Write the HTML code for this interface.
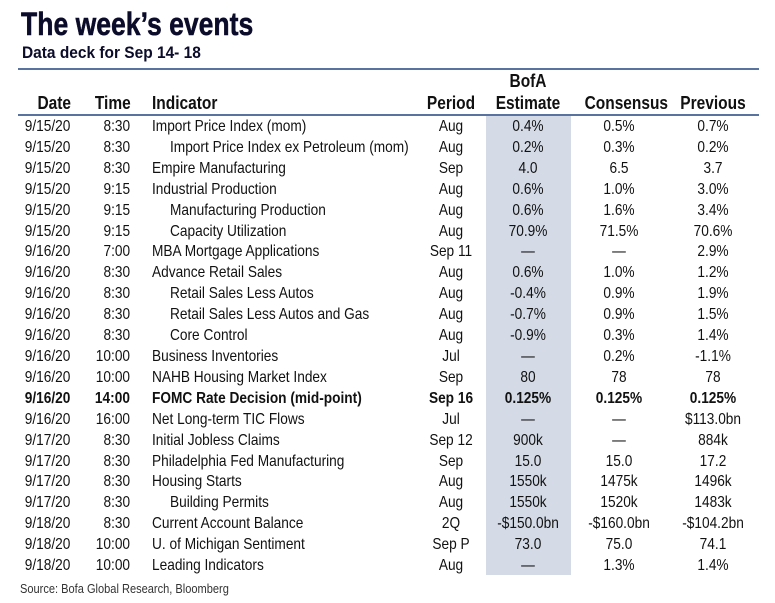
<!DOCTYPE html>
<html><head><meta charset="utf-8"><style>
body{margin:0;width:775px;height:603px;background:#fff;position:relative;overflow:hidden;font-family:"Liberation Sans",sans-serif;color:#111}
.t{position:absolute;left:21px;top:6px;font:bold 32px "Liberation Sans",sans-serif;color:#0b0b2a;transform:scaleX(0.83);transform-origin:left;-webkit-text-stroke:0.5px #0b0b2a}
.s{position:absolute;left:22px;top:43px;font:bold 17px "Liberation Sans",sans-serif;color:#0b0b2a;transform:scaleX(0.91);transform-origin:left}
.ln{position:absolute;left:18px;width:741px;height:2px;background:#5a72a0}
.sh{position:absolute;left:486px;width:85px;top:116px;height:459px;background:#d4dbe6}
.r{position:absolute;left:0;width:775px;height:21px;font-size:16px;line-height:21px}
.r span{position:absolute;white-space:nowrap;transform:scaleX(0.855)}
.d{right:705px;text-align:right;transform-origin:right}
.tm{right:645px;text-align:right;transform-origin:right}
.r span.i,.r span.i2{transform-origin:left}
.i{left:152px}.i2{left:170px}
.p{left:411px;width:80px;text-align:center}
.b{left:488px;width:80px;text-align:center}
.c{left:579px;width:80px;text-align:center}
.v{left:673px;width:80px;text-align:center}
.h{font-weight:bold;font-size:18px}
.h span{transform:scaleX(0.86)}
.bd{font-weight:bold}
.src{position:absolute;left:20px;top:581px;font-size:13px;color:#333;transform:scaleX(0.85);transform-origin:left;white-space:nowrap}
</style></head><body>
<div class="t">The week’s events</div>
<div class="s">Data deck for Sep 14- 18</div>
<div class="ln" style="top:68px"></div>
<div class="sh"></div>
<div class="ln" style="top:114px"></div>
<div class="r h" style="top:71px"><span class="b">BofA</span></div>
<div class="r h" style="top:93px"><span class="d" style="right:704px">Date</span><span class="tm" style="right:644px">Time</span><span class="i">Indicator</span><span class="p">Period</span><span class="b">Estimate</span><span class="c">Consensus</span><span class="v">Previous</span></div>
<div class="r" style="top:116px"><span class="d">9/15/20</span><span class="tm">8:30</span><span class="i">Import Price Index (mom)</span><span class="p">Aug</span><span class="b">0.4%</span><span class="c">0.5%</span><span class="v">0.7%</span></div>
<div class="r" style="top:137px"><span class="d">9/15/20</span><span class="tm">8:30</span><span class="i2">Import Price Index ex Petroleum (mom)</span><span class="p">Aug</span><span class="b">0.2%</span><span class="c">0.3%</span><span class="v">0.2%</span></div>
<div class="r" style="top:158px"><span class="d">9/15/20</span><span class="tm">8:30</span><span class="i">Empire Manufacturing</span><span class="p">Sep</span><span class="b">4.0</span><span class="c">6.5</span><span class="v">3.7</span></div>
<div class="r" style="top:179px"><span class="d">9/15/20</span><span class="tm">9:15</span><span class="i">Industrial Production</span><span class="p">Aug</span><span class="b">0.6%</span><span class="c">1.0%</span><span class="v">3.0%</span></div>
<div class="r" style="top:200px"><span class="d">9/15/20</span><span class="tm">9:15</span><span class="i2">Manufacturing Production</span><span class="p">Aug</span><span class="b">0.6%</span><span class="c">1.6%</span><span class="v">3.4%</span></div>
<div class="r" style="top:221px"><span class="d">9/15/20</span><span class="tm">9:15</span><span class="i2">Capacity Utilization</span><span class="p">Aug</span><span class="b">70.9%</span><span class="c">71.5%</span><span class="v">70.6%</span></div>
<div class="r" style="top:241px"><span class="d">9/16/20</span><span class="tm">7:00</span><span class="i">MBA Mortgage Applications</span><span class="p">Sep 11</span><span class="b">—</span><span class="c">—</span><span class="v">2.9%</span></div>
<div class="r" style="top:262px"><span class="d">9/16/20</span><span class="tm">8:30</span><span class="i">Advance Retail Sales</span><span class="p">Aug</span><span class="b">0.6%</span><span class="c">1.0%</span><span class="v">1.2%</span></div>
<div class="r" style="top:283px"><span class="d">9/16/20</span><span class="tm">8:30</span><span class="i2">Retail Sales Less Autos</span><span class="p">Aug</span><span class="b">-0.4%</span><span class="c">0.9%</span><span class="v">1.9%</span></div>
<div class="r" style="top:304px"><span class="d">9/16/20</span><span class="tm">8:30</span><span class="i2">Retail Sales Less Autos and Gas</span><span class="p">Aug</span><span class="b">-0.7%</span><span class="c">0.9%</span><span class="v">1.5%</span></div>
<div class="r" style="top:325px"><span class="d">9/16/20</span><span class="tm">8:30</span><span class="i2">Core Control</span><span class="p">Aug</span><span class="b">-0.9%</span><span class="c">0.3%</span><span class="v">1.4%</span></div>
<div class="r" style="top:346px"><span class="d">9/16/20</span><span class="tm">10:00</span><span class="i">Business Inventories</span><span class="p">Jul</span><span class="b">—</span><span class="c">0.2%</span><span class="v">-1.1%</span></div>
<div class="r" style="top:367px"><span class="d">9/16/20</span><span class="tm">10:00</span><span class="i">NAHB Housing Market Index</span><span class="p">Sep</span><span class="b">80</span><span class="c">78</span><span class="v">78</span></div>
<div class="r bd" style="top:388px"><span class="d">9/16/20</span><span class="tm">14:00</span><span class="i">FOMC Rate Decision (mid-point)</span><span class="p">Sep 16</span><span class="b">0.125%</span><span class="c">0.125%</span><span class="v">0.125%</span></div>
<div class="r" style="top:409px"><span class="d">9/16/20</span><span class="tm">16:00</span><span class="i">Net Long-term TIC Flows</span><span class="p">Jul</span><span class="b">—</span><span class="c">—</span><span class="v">$113.0bn</span></div>
<div class="r" style="top:430px"><span class="d">9/17/20</span><span class="tm">8:30</span><span class="i">Initial Jobless Claims</span><span class="p">Sep 12</span><span class="b">900k</span><span class="c">—</span><span class="v">884k</span></div>
<div class="r" style="top:451px"><span class="d">9/17/20</span><span class="tm">8:30</span><span class="i">Philadelphia Fed Manufacturing</span><span class="p">Sep</span><span class="b">15.0</span><span class="c">15.0</span><span class="v">17.2</span></div>
<div class="r" style="top:471px"><span class="d">9/17/20</span><span class="tm">8:30</span><span class="i">Housing Starts</span><span class="p">Aug</span><span class="b">1550k</span><span class="c">1475k</span><span class="v">1496k</span></div>
<div class="r" style="top:492px"><span class="d">9/17/20</span><span class="tm">8:30</span><span class="i2">Building Permits</span><span class="p">Aug</span><span class="b">1550k</span><span class="c">1520k</span><span class="v">1483k</span></div>
<div class="r" style="top:513px"><span class="d">9/18/20</span><span class="tm">8:30</span><span class="i">Current Account Balance</span><span class="p">2Q</span><span class="b">-$150.0bn</span><span class="c">-$160.0bn</span><span class="v">-$104.2bn</span></div>
<div class="r" style="top:534px"><span class="d">9/18/20</span><span class="tm">10:00</span><span class="i">U. of Michigan Sentiment</span><span class="p">Sep P</span><span class="b">73.0</span><span class="c">75.0</span><span class="v">74.1</span></div>
<div class="r" style="top:555px"><span class="d">9/18/20</span><span class="tm">10:00</span><span class="i">Leading Indicators</span><span class="p">Aug</span><span class="b">—</span><span class="c">1.3%</span><span class="v">1.4%</span></div>
<div class="src">Source: Bofa Global Research, Bloomberg</div>
</body></html>
